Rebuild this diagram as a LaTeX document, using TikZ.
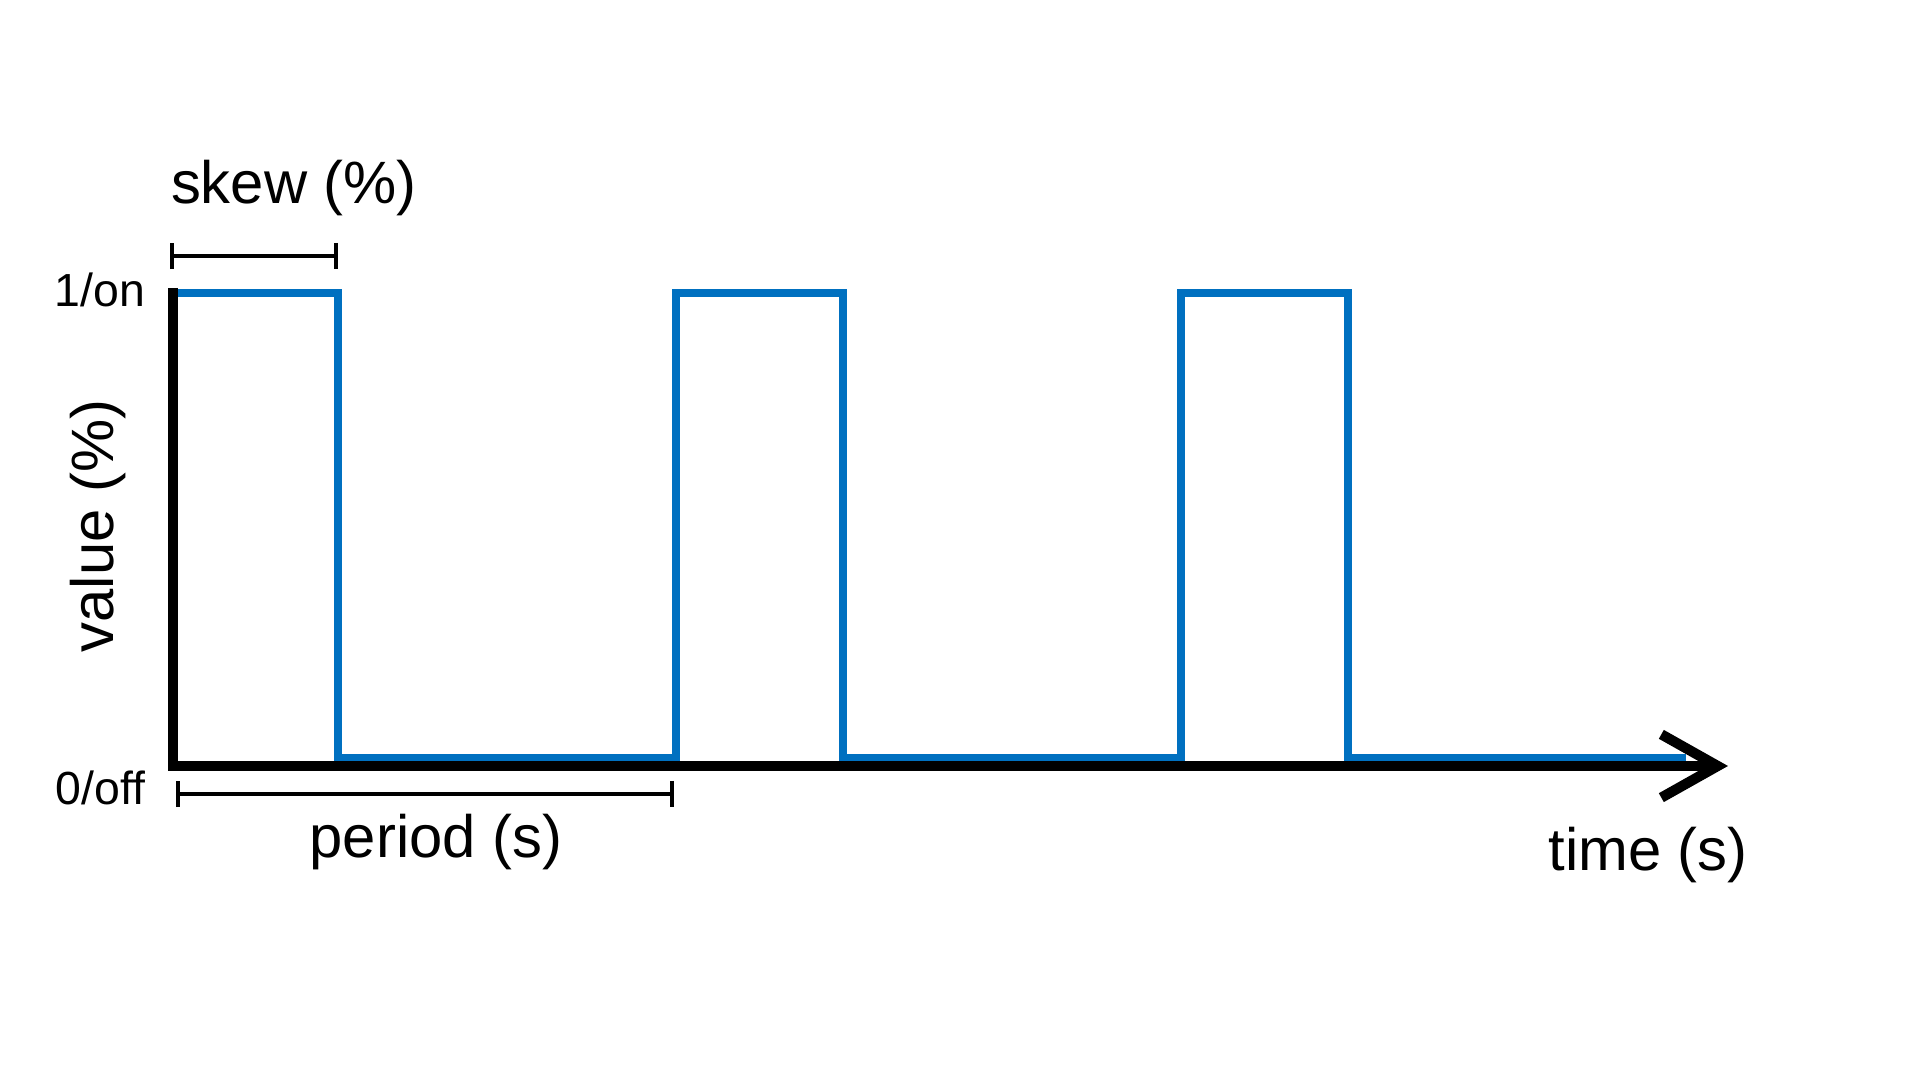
\documentclass[tikz,border=0pt]{standalone}
\usepackage{fontspec}
\setmainfont{Liberation Sans}
\usetikzlibrary{arrows.meta}
\definecolor{wblue}{HTML}{0070C0}

\begin{document}
\begin{tikzpicture}[x=0.01cm,y=-0.01cm,
      axis/.style={line width=2.9pt,black},
      wave/.style={line width=2pt,wblue,line join=miter},
      brk/.style={line width=1.2pt,{Bar[width=7.5pt]}-{Bar[width=7.5pt]}},
      lbl/.style={font=\fontsize{17}{20}\selectfont,inner sep=0pt},
      tk/.style={font=\fontsize{13.2}{16}\selectfont,inner sep=0pt,anchor=east}]
    \useasboundingbox (0,0) rectangle (1920,1080);
    \coordinate (top) at (173,288); \coordinate (tip) at (1728,766);
    \coordinate (sk0) at (170,256); \coordinate (sk1) at (338,256);
    \coordinate (pe0) at (176,794); \coordinate (pe1) at (674,794);
    % pulse train
    \draw[wave] (173,757.5) foreach \s/\e in {173/338,676/843,1181/1348}{
      -- (\s,757.5) -- (\s,293) -- (\e,293) -- (\e,757.5)} -- (1686,757.5);
    \draw[axis,-{Straight Barb[length=16pt,width=18pt]}] (top) |- (tip);
    \draw[brk] (sk0) -- (sk1);
    \draw[brk] (pe0) -- (pe1);
    \node[lbl](skew) at (294,188){skew (\%)};
    \node[lbl](per) at (436,842){period (s)};
    \node[lbl](time) at (1648,855){time (s)};
    \node[lbl,rotate=90](val) at (98,526){value (\%)};
    \node[tk](on) at (146,290){1/on};
    \node[tk](off) at (146,788){0/off};
  \end{tikzpicture}
\end{document}
